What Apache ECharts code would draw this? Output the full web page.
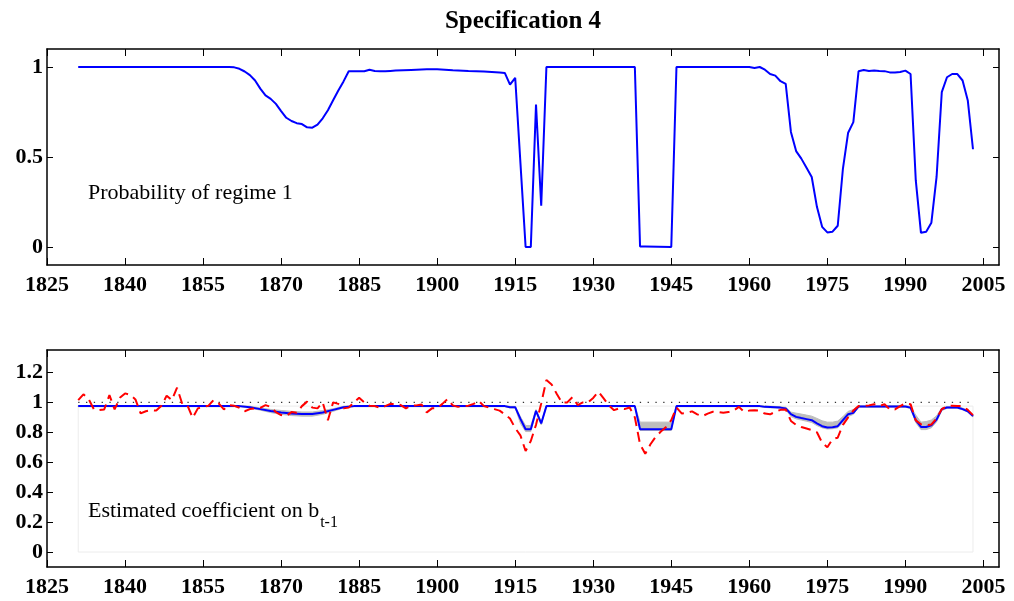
<!DOCTYPE html>
<html>
<head>
<meta charset="utf-8">
<script src="https://cdn.jsdelivr.net/npm/echarts@6/dist/echarts.min.js"></script>
<style>
html,body{margin:0;padding:0;background:#fff;}
#chart{width:1014px;height:601px;}
</style>
</head>
<body>
<div id="chart"></div>
<script>
// ---- Data ----
const xTicks = [1825, 1840, 1855, 1870, 1885, 1900, 1915, 1930, 1945, 1960, 1975, 1990, 2005];
const probTicks = [0, 0.5, 1];
const coefTicks = [0, 0.2, 0.4, 0.6, 0.8, 1, 1.2];

// Top panel: probability of regime 1
const probYears = [1831,1860,1861,1862,1863,1864,1865,1866,1867,1868,1869,1870,1871,1872,1873,1874,1875,1876,1877,1878,1879,1880,1881,1882,1883,1884,1885,1886,1887,1888,1889,1890,1891,1892,1895,1898,1900,1903,1906,1909,1912,1913,1914,1915,1916,1917,1918,1919,1920,1921,1938,1939,1940,1945,1946,1960,1961,1962,1963,1964,1965,1966,1967,1968,1969,1970,1971,1972,1973,1974,1975,1976,1977,1978,1979,1980,1981,1982,1983,1984,1985,1986,1987,1988,1989,1990,1991,1992,1993,1994,1995,1996,1997,1998,1999,2000,2001,2002,2003];
const probVals  = [1.0,1.0,0.998,0.99,0.975,0.955,0.925,0.88,0.842,0.823,0.795,0.755,0.718,0.70,0.688,0.683,0.665,0.663,0.68,0.715,0.76,0.815,0.869,0.92,0.976,0.976,0.976,0.976,0.985,0.978,0.977,0.976,0.978,0.98,0.984,0.987,0.987,0.982,0.978,0.975,0.97,0.967,0.902,0.94,0.47,0.0,0.0,0.792,0.229,1.0,1.0,0.003,0.003,0.0,1.0,1.0,0.995,1.0,0.985,0.961,0.952,0.921,0.906,0.639,0.533,0.491,0.44,0.389,0.223,0.112,0.081,0.085,0.118,0.436,0.635,0.694,0.976,0.983,0.978,0.98,0.978,0.977,0.97,0.969,0.972,0.98,0.961,0.371,0.079,0.085,0.135,0.389,0.86,0.943,0.961,0.961,0.925,0.814,0.543];

// Bottom panel: estimated coefficient (blue) with band
const coefYears = [1831,1862,1864,1866,1868,1870,1872,1874,1876,1878,1880,1882,1884,1913,1914,1915,1916,1917,1918,1919,1920,1921,1938,1939,1945,1946,1962,1963,1966,1967,1968,1969,1970,1971,1972,1973,1974,1975,1976,1977,1978,1979,1980,1981,1990,1991,1992,1993,1994,1995,1996,1997,1998,2000,2001,2002,2003];
const coefVals  = [0.975,0.975,0.968,0.955,0.942,0.932,0.926,0.922,0.922,0.932,0.950,0.968,0.975,0.975,0.968,0.968,0.89,0.82,0.82,0.944,0.859,0.975,0.975,0.82,0.82,0.975,0.975,0.97,0.965,0.96,0.921,0.903,0.895,0.888,0.881,0.86,0.841,0.832,0.834,0.841,0.881,0.921,0.93,0.972,0.972,0.965,0.881,0.836,0.836,0.847,0.885,0.955,0.966,0.966,0.955,0.941,0.908];
const bandLow   = [0.971,0.971,0.962,0.948,0.932,0.920,0.912,0.908,0.908,0.920,0.940,0.963,0.971,0.971,0.963,0.962,0.86,0.805,0.805,0.935,0.85,0.971,0.971,0.812,0.812,0.971,0.971,0.966,0.96,0.953,0.905,0.89,0.882,0.874,0.866,0.845,0.83,0.822,0.824,0.83,0.866,0.905,0.92,0.968,0.968,0.958,0.865,0.818,0.818,0.83,0.87,0.945,0.96,0.96,0.95,0.935,0.902];
const bandHigh  = [0.979,0.979,0.974,0.963,0.953,0.946,0.940,0.936,0.936,0.945,0.958,0.974,0.979,0.979,0.973,0.973,0.905,0.845,0.845,0.952,0.87,0.979,0.979,0.868,0.868,0.979,0.979,0.976,0.971,0.967,0.935,0.928,0.922,0.915,0.908,0.893,0.877,0.868,0.868,0.875,0.905,0.94,0.952,0.978,0.978,0.973,0.915,0.868,0.872,0.882,0.91,0.963,0.972,0.972,0.962,0.948,0.914];

// Bottom panel: red dashed annual series, 1831..2003
const olsStartYear = 1831;
const olsVals = [
 1.015,1.054,1.022,0.955,0.948,0.953,1.049,0.953,1.031,1.06,
 1.05,1.02,0.926,0.941,0.948,0.945,0.977,1.045,1.015,1.098,
 0.99,0.98,0.897,0.96,0.97,0.977,1.015,0.993,0.953,0.982,
 0.977,0.964,0.941,0.955,0.96,0.964,0.982,0.97,0.935,0.915,
 0.91,0.935,0.93,0.975,1.005,0.965,0.96,1.0,0.88,1.0,
 0.99,0.96,0.965,1.0,1.031,1.0,0.977,0.975,0.964,0.975,
 0.99,0.99,0.982,0.96,0.977,0.98,0.986,0.933,0.96,0.962,
 0.99,1.022,0.98,0.97,0.975,0.978,0.99,1.009,0.975,0.965,
 0.955,0.945,0.92,0.892,0.828,0.78,0.675,0.742,0.85,0.993,
 1.15,1.12,1.056,0.997,1.0,1.035,0.982,1.0,1.0,1.03,
 1.071,1.027,0.98,0.948,0.96,0.955,0.966,0.9,0.72,0.657,
 0.72,0.77,0.805,0.836,0.881,0.966,0.926,0.93,0.94,0.92,
 0.908,0.925,0.937,0.935,0.93,0.935,0.945,0.97,0.937,0.945,
 0.948,0.944,0.925,0.92,0.937,0.95,0.953,0.876,0.85,0.835,
 0.825,0.815,0.8,0.73,0.7,0.755,0.764,0.85,0.9,0.945,
 0.975,0.975,0.98,0.988,0.975,0.988,0.953,0.953,0.975,0.993,
 0.988,0.88,0.854,0.848,0.852,0.892,0.955,0.975,0.978,0.975,
 0.975,0.95,0.915
];
const refLevel = 1;

// ---- Chart ----
const FONT = "'Liberation Serif', 'Times New Roman', serif";
const chart = echarts.init(document.getElementById('chart'), null, {renderer: 'canvas'});

function plainNum(v) { return String(v); }

function xAxisDef(grid, pos) {
  const isBottom = pos === 'bottom';
  return {
    type: 'value', gridIndex: grid, position: pos, min: 1825, max: 2008,
    axisLine: {show: true, onZero: false, lineStyle: {color: '#000', width: 1.5}},
    axisTick: {show: true, inside: true, length: 7, customValues: xTicks, lineStyle: {color: '#000', width: 1}},
    axisLabel: {show: isBottom, customValues: xTicks, formatter: plainNum, margin: 9, color: '#000', fontFamily: FONT, fontWeight: 'bold', fontSize: 22},
    splitLine: {show: false}
  };
}
function yAxisDef(grid, pos, min, max, ticks) {
  const isLeft = pos === 'left';
  return {
    type: 'value', gridIndex: grid, position: pos, min: min, max: max,
    axisLine: {show: true, onZero: false, lineStyle: {color: '#000', width: 1.5}},
    axisTick: {show: true, inside: true, length: 6, customValues: ticks, lineStyle: {color: '#000', width: 1}},
    axisLabel: {show: isLeft, customValues: ticks, formatter: plainNum, margin: 4, color: '#000', fontFamily: FONT, fontWeight: 'bold', fontSize: 22},
    splitLine: {show: false}
  };
}

const probData = probYears.map((y, i) => [y, probVals[i]]);
const coefData = coefYears.map((y, i) => [y, coefVals[i]]);
const olsData = olsVals.map((v, i) => [olsStartYear + i, v]);
const lastYear = olsStartYear + olsVals.length - 1;

// subscript placement via text measurement
const mctx = document.createElement('canvas').getContext('2d');
mctx.font = "22px " + FONT;
const mainLabel = 'Estimated coefficient on b';
const mainW = mctx.measureText(mainLabel).width;

const option = {
  animation: false,
  backgroundColor: '#fff',
  grid: [
    {left: 47, top: 49, width: 952, height: 216, containLabel: false},
    {left: 47, top: 350, width: 952, height: 217, containLabel: false}
  ],
  xAxis: [xAxisDef(0, 'bottom'), xAxisDef(0, 'top'), xAxisDef(1, 'bottom'), xAxisDef(1, 'top')],
  yAxis: [
    yAxisDef(0, 'left', -0.1, 1.1, probTicks), yAxisDef(0, 'right', -0.1, 1.1, probTicks),
    yAxisDef(1, 'left', -0.1, 1.35, coefTicks), yAxisDef(1, 'right', -0.1, 1.35, coefTicks)
  ],
  graphic: [
    {type: 'text', x: 523, y: 22, style: {text: 'Specification 4', font: "bold 25px " + FONT, fill: '#000', textAlign: 'center', textVerticalAlign: 'middle'}},
    {type: 'text', x: 88, y: 193, style: {text: 'Probability of regime 1', font: "22px " + FONT, fill: '#000', textAlign: 'left', textVerticalAlign: 'middle'}},
    {type: 'text', x: 88, y: 511, style: {text: mainLabel, font: "22px " + FONT, fill: '#000', textAlign: 'left', textVerticalAlign: 'middle'}},
    {type: 'text', x: 88 + mainW + 1, y: 523, style: {text: 't-1', font: "16px " + FONT, fill: '#000', textAlign: 'left', textVerticalAlign: 'middle'}}
  ],
  series: [
    {
      type: 'line', xAxisIndex: 0, yAxisIndex: 0, data: probData,
      showSymbol: false, symbol: 'none', lineStyle: {color: '#0000ff', width: 2}, z: 5
    },
    {
      type: 'line', xAxisIndex: 2, yAxisIndex: 2,
      data: [[olsStartYear, refLevel], [lastYear, refLevel]],
      symbol: 'none', lineStyle: {color: '#333', width: 1.3, type: [1.3, 6.5]}, z: 1,
      markArea: {
        silent: true,
        itemStyle: {color: 'rgba(0,0,0,0)', borderColor: '#ececec', borderWidth: 1},
        data: [[{xAxis: olsStartYear, yAxis: 0}, {xAxis: lastYear, yAxis: coefVals[0]}]]
      }
    },
    {
      type: 'custom', xAxisIndex: 2, yAxisIndex: 2,
      data: [[coefYears[0], bandLow[0]]],
      renderItem: function (params, api) {
        const pts = [];
        for (let i = 0; i < coefYears.length; i++) pts.push(api.coord([coefYears[i], bandHigh[i]]));
        for (let i = coefYears.length - 1; i >= 0; i--) pts.push(api.coord([coefYears[i], bandLow[i]]));
        return {type: 'polygon', shape: {points: pts}, style: {fill: '#bdbdbd', stroke: '#bdbdbd', lineWidth: 1}};
      },
      z: 2
    },
    {
      type: 'line', xAxisIndex: 2, yAxisIndex: 2, data: coefData,
      symbol: 'none', lineStyle: {color: '#0000ff', width: 2}, z: 3
    },
    {
      type: 'line', xAxisIndex: 2, yAxisIndex: 2, data: olsData,
      symbol: 'none', lineStyle: {color: '#ff0000', width: 2, type: [10, 6]}, z: 4
    }
  ]
};
chart.setOption(option);
</script>
</body>
</html>
